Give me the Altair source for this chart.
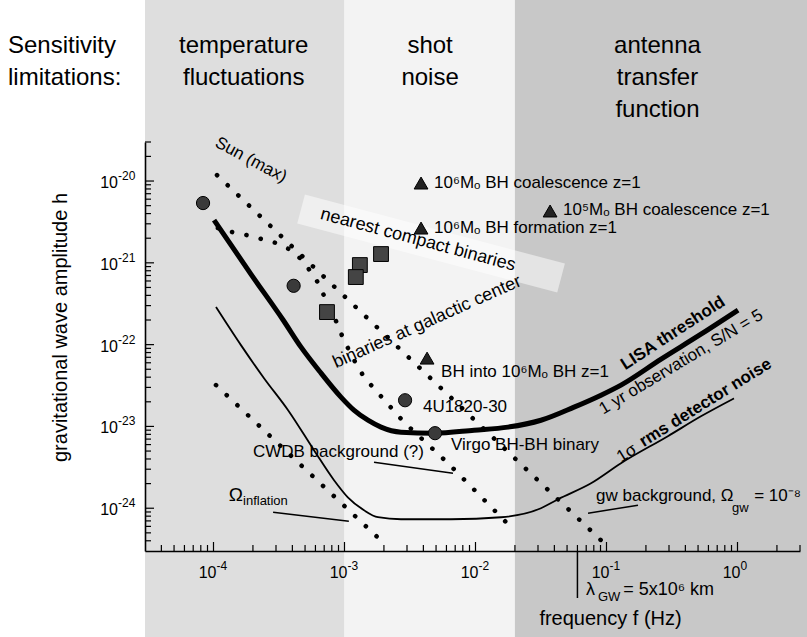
import altair as alt
import pandas as pd

FONT = "Liberation Sans"
W, H = 655, 409

# ---------------- data ----------------
band_lo = [3e-5, 1e-3, 2e-2]
band_hi = [1e-3, 2e-2, 5.0]
head_f = [1.7e-4, 4.5e-3, 0.245]
head_lines = [["temperature", "fluctuations"], ["shot", "noise"], ["antenna", "transfer", "function"]]
side_lines = ["Sensitivity", "limitations:"]

# LISA threshold (1 yr observation, S/N = 5)
lisa_f = [1.01e-4, 1.93e-4, 3.4e-4, 4.66e-4, 6.62e-4, 9.4e-4, 1.18e-3, 1.51e-3, 1.9e-3, 2.7e-3,
          4.82e-3, 9.75e-3, 1.77e-2, 3.16e-2, 5.65e-2, 9.08e-2, 0.129, 0.261, 0.526, 1.01]
lisa_h = [3.33e-21, 7.28e-22, 2.0e-22, 9.31e-23, 4.48e-23, 2.28e-23, 1.58e-23, 1.19e-23, 9.8e-24, 8.5e-24,
          8.27e-24, 9.0e-24, 9.8e-24, 1.19e-23, 1.72e-23, 2.41e-23, 3.2e-23, 6.65e-23, 1.34e-22, 2.64e-22]

# 1 sigma rms detector noise
noise_f = [1.045e-4, 1.62e-4, 2.43e-4, 3.71e-4, 5.85e-4, 8.32e-4, 1.06e-3, 1.41e-3, 1.8e-3, 2.7e-3,
           6.5e-3, 1.57e-2, 3.16e-2, 4.27e-2, 7.62e-2, 0.129, 0.294, 0.526, 0.94]
noise_h = [2.88e-22, 9.86e-23, 3.89e-23, 1.58e-23, 5.13e-24, 2.2e-24, 1.36e-24, 9.45e-25, 7.76e-25, 7.33e-25,
           7.33e-25, 7.76e-25, 1.0e-24, 1.29e-24, 2.02e-24, 3.55e-24, 7.6e-24, 1.33e-23, 2.2e-23]

# dotted source tracks
sun_f = [1.064e-4, 9.25e-2]
sun_h = [1.18e-20, 3.94e-25]
gc_f = [1.08e-4, 1.38e-4, 1.80e-4, 2.34e-4, 3.0e-4, 3.91e-4, 4.74e-4, 5.55e-4, 6.38e-4, 7.10e-4,
        8.77e-4, 9.74e-4, 1.16e-3, 1.41e-3, 2.84e-3, 6.17e-3, 1.90e-2]
gc_h = [2.66e-21, 2.38e-21, 2.18e-21, 1.95e-21, 1.75e-21, 1.43e-21, 1.08e-21, 7.71e-22, 5.50e-22, 3.71e-22,
        1.83e-22, 1.20e-22, 6.84e-23, 4.0e-23, 1.13e-23, 3.55e-24, 5.69e-25]
infl_f = [1.045e-4, 2.0e-3]
infl_h = [3.2e-23, 3.73e-25]

# leader lines (Omega_inflation, CWDB background, gw background)
lead_id = ["infl", "infl", "cwdb", "cwdb", "gwb", "gwb"]
lead_f = [2.85e-4, 1.08e-3, 1.68e-3, 6.73e-3, 7.23e-2, 0.174]
lead_h = [8.93e-25, 6.93e-25, 3.65e-24, 2.68e-24, 8.69e-25, 1.09e-24]

# light strip behind "nearest compact binaries"
strip_f = [4.66e-4, 4.5e-2]
strip_h = [4.54e-21, 6.51e-22]

# sources
circ_f = [8.32e-5, 4.09e-4, 2.90e-3, 4.91e-3]
circ_h = [5.38e-21, 5.24e-22, 2.09e-23, 8.27e-24]
sq_f = [1.90e-3, 1.31e-3, 1.22e-3, 7.35e-4]
sq_h = [1.28e-21, 9.39e-22, 6.70e-22, 2.50e-22]
tri_f = [3.84e-3, 3.71e-2, 3.84e-3, 4.27e-3]
tri_h = [9.45e-21, 4.30e-21, 2.66e-21, 6.84e-23]

# horizontal source labels
src_text = ["10⁶Mₒ BH coalescence z=1", "10⁵Mₒ BH coalescence z=1", "10⁶Mₒ BH formation z=1",
            "BH into 10⁶Mₒ BH z=1", "4U1820-30", "Virgo BH-BH binary", "CWDB background (?)",
            "gw background, Ω", "= 10⁻⁸"]
src_f = [4.82e-3, 4.66e-2, 4.82e-3, 5.46e-3, 3.97e-3, 6.50e-3, 2.00e-4, 8.32e-2, 1.34]
src_h = [9.45e-21, 4.42e-21, 2.66e-21, 4.61e-23, 1.72e-23, 5.90e-24, 4.84e-24, 1.40e-24, 1.40e-24]

# rotated labels
rot_text = ["Sun (max)", "nearest compact binaries", "binaries at galactic center",
            "LISA threshold", "1 yr observation, S/N = 5", "1σ", "rms detector noise"]
rot_f = [1.93e-4, 3.64e-3, 4.27e-3, 0.322, 0.371, 0.143, 0.57]
rot_h = [1.81e-20, 1.90e-21, 1.88e-22, 1.38e-22, 6.11e-23, 4.7e-24, 1.95e-23]

# Omega_inflation, Omega_gw subscripts
omega_f = [1.31e-4]
omega_h = [1.44e-24]
sub_text = ["inflation", "gw"]
sub_f = [1.68e-4, 0.908]
sub_h = [1.22e-24, 1.0e-24]

# lambda_GW marker
lam_f = [0.06]
lam_text = ["λ", "GW", "= 5x10⁶ km"]
lam_tf = [6.98e-2, 8.61e-2, 0.134]

# axis ticks and labels
x_major = [1e-4, 1e-3, 1e-2, 1e-1, 1.0]
x_exp = ["-4", "-3", "-2", "-1", "0"]
x_minor = [m * 10.0 ** e for e in range(-5, 1) for m in range(2, 10) if 3.5e-5 < m * 10.0 ** e < 3.5]
y_major = [1e-24, 1e-23, 1e-22, 1e-21, 1e-20]
y_exp = ["-24", "-23", "-22", "-21", "-20"]
y_minor = [m * 10.0 ** e for e in range(-25, -19) for m in range(2, 10) if 3.5e-25 < m * 10.0 ** e < 3.5e-20]

# ---------------- scales / axes ----------------
xs = alt.Scale(type="log", domain=[3e-5, 3], nice=False)
ys = alt.Scale(type="log", domain=[3e-25, 3e-20], nice=False)
xaxis = alt.Axis(labels=False, ticks=False, grid=False, domainColor="black", domainWidth=1.6, zindex=2,
                 title="frequency f (Hz)", titleFont=FONT, titleFontSize=20, titleFontWeight="normal",
                 titleColor="black", titleX=465, titleY=67, titleAlign="center", titleBaseline="middle")
yaxis = alt.Axis(labels=False, ticks=False, grid=False, domainColor="black", domainWidth=1.6, zindex=2,
                 title="gravitational wave amplitude h", titleFont=FONT, titleFontSize=20,
                 titleFontWeight="normal", titleColor="black", titleX=-85, titleY=185, titleAngle=270,
                 titleAlign="center", titleBaseline="middle")


def X(field="f"):
    return alt.X(f"{field}:Q", scale=xs, axis=xaxis)


def Y(field="h"):
    return alt.Y(f"{field}:Q", scale=ys, axis=yaxis)


def pts(f, h, **extra):
    d = {"f": f, "h": h}
    d.update(extra)
    return pd.DataFrame(d)


layers = []

# bands
band_fill = ["#dedede", "#f3f3f3", "#c8c8c8"]
for i in range(3):
    layers.append(
        alt.Chart(pd.DataFrame({"f": [band_lo[i]], "f2": [band_hi[i]]}))
        .mark_rect(color=band_fill[i])
        .encode(x=X(), x2="f2:Q", y=alt.value(-150), y2=alt.value(H + 100))
    )

# header texts
head_y = [-96, -64, -32]
for i in range(3):
    for j, line in enumerate(head_lines[i]):
        layers.append(
            alt.Chart(pd.DataFrame({"f": [head_f[i]], "t": [line]}))
            .mark_text(font=FONT, fontSize=24, align="center", baseline="middle", color="black")
            .encode(x=X(), y=alt.value(head_y[j]), text="t:N")
        )
for j, line in enumerate(side_lines):
    layers.append(
        alt.Chart(pd.DataFrame({"t": [line]}))
        .mark_text(font=FONT, fontSize=24, align="left", baseline="middle", color="black")
        .encode(x=alt.value(-137), y=alt.value(head_y[j]), text="t:N")
    )

# light strip
layers.append(
    alt.Chart(pts(strip_f, strip_h)).mark_line(color="white", strokeWidth=30, opacity=0.5, strokeCap="butt")
    .encode(x=X(), y=Y())
)

# dotted tracks
for f, h in [(sun_f, sun_h), (gc_f, gc_h), (infl_f, infl_h)]:
    layers.append(
        alt.Chart(pts(f, h)).mark_line(color="black", strokeWidth=4.6, strokeCap="round",
                                       strokeDash=[0.1, 14.6])
        .encode(x=X(), y=Y())
    )

# leader lines
layers.append(
    alt.Chart(pts(lead_f, lead_h, g=lead_id)).mark_line(color="black", strokeWidth=1.5)
    .encode(x=X(), y=Y(), detail="g:N")
)

# noise curve and LISA threshold
layers.append(
    alt.Chart(pts(noise_f, noise_h)).mark_line(color="black", strokeWidth=1.8, interpolate="monotone")
    .encode(x=X(), y=Y())
)
layers.append(
    alt.Chart(pts(lisa_f, lisa_h)).mark_line(color="black", strokeWidth=5, interpolate="monotone")
    .encode(x=X(), y=Y())
)

# markers
layers.append(
    alt.Chart(pts(circ_f, circ_h)).mark_point(shape="circle", filled=True, fill="#3a3a3a", stroke="black",
                                              strokeWidth=1, size=175, opacity=1)
    .encode(x=X(), y=Y())
)
layers.append(
    alt.Chart(pts(sq_f, sq_h)).mark_point(shape="square", filled=True, fill="#444444", stroke="black",
                                          strokeWidth=1, size=220, opacity=1)
    .encode(x=X(), y=Y())
)
layers.append(
    alt.Chart(pts(tri_f, tri_h)).mark_point(shape="triangle-up", filled=True, fill="#222222", stroke="black",
                                            strokeWidth=1, size=190, opacity=1)
    .encode(x=X(), y=Y())
)

# horizontal labels
for i, t in enumerate(src_text):
    layers.append(
        alt.Chart(pd.DataFrame({"f": [src_f[i]], "h": [src_h[i]], "t": [t]}))
        .mark_text(font=FONT, fontSize=17, align="left", baseline="middle", color="black")
        .encode(x=X(), y=Y(), text="t:N")
    )

# rotated labels
rot_style = [
    dict(angle=28, fontSize=17),
    dict(angle=15, fontSize=18),
    dict(angle=336, fontSize=18),
    dict(angle=327, fontSize=17, fontWeight="bold"),
    dict(angle=329, fontSize=17),
    dict(angle=328, fontSize=17),
    dict(angle=328, fontSize=17, fontWeight="bold"),
]
for i, t in enumerate(rot_text):
    layers.append(
        alt.Chart(pd.DataFrame({"f": [rot_f[i]], "h": [rot_h[i]], "t": [t]}))
        .mark_text(font=FONT, align="center", baseline="middle", color="black", **rot_style[i])
        .encode(x=X(), y=Y(), text="t:N")
    )

# Omega_inflation and subscripts
layers.append(
    alt.Chart(pd.DataFrame({"f": omega_f, "h": omega_h, "t": ["Ω"]}))
    .mark_text(font=FONT, fontSize=19, align="left", baseline="middle", color="black")
    .encode(x=X(), y=Y(), text="t:N")
)
layers.append(
    alt.Chart(pd.DataFrame({"f": sub_f, "h": sub_h, "t": sub_text}))
    .mark_text(font=FONT, fontSize=13, align="left", baseline="middle", color="black")
    .encode(x=X(), y=Y(), text="t:N")
)

# lambda_GW marker
layers.append(
    alt.Chart(pd.DataFrame({"f": lam_f})).mark_rule(color="black", strokeWidth=1.5)
    .encode(x=X(), y=alt.value(H), y2=alt.value(H + 47))
)
lam_y = [39, 46, 39]
lam_size = [18, 13, 18]
for i, t in enumerate(lam_text):
    layers.append(
        alt.Chart(pd.DataFrame({"f": [lam_tf[i]], "t": [t]}))
        .mark_text(font=FONT, fontSize=lam_size[i], align="left", baseline="middle", color="black")
        .encode(x=X(), y=alt.value(H + lam_y[i]), text="t:N")
    )

# ticks (pointing inward)
layers.append(alt.Chart(pd.DataFrame({"f": x_major})).mark_rule(color="black", strokeWidth=1.2)
              .encode(x=X(), y=alt.value(H), y2=alt.value(H - 9)))
layers.append(alt.Chart(pd.DataFrame({"f": x_minor})).mark_rule(color="black", strokeWidth=1.2)
              .encode(x=X(), y=alt.value(H), y2=alt.value(H - 6)))
layers.append(alt.Chart(pd.DataFrame({"h": y_major})).mark_rule(color="black", strokeWidth=1.2)
              .encode(y=Y(), x=alt.value(0), x2=alt.value(9)))
layers.append(alt.Chart(pd.DataFrame({"h": y_minor})).mark_rule(color="black", strokeWidth=1.2)
              .encode(y=Y(), x=alt.value(0), x2=alt.value(6)))

# tick labels as 10 + superscript
xl = pd.DataFrame({"f": x_major, "e": x_exp})
layers.append(alt.Chart(xl).mark_text(font=FONT, fontSize=16, align="right", baseline="middle", dx=3,
                                      color="black")
              .encode(x=X(), y=alt.value(H + 22), text=alt.value("10")))
layers.append(alt.Chart(xl).mark_text(font=FONT, fontSize=12, align="left", baseline="middle", dx=3,
                                      color="black")
              .encode(x=X(), y=alt.value(H + 15), text="e:N"))
yl = pd.DataFrame({"h": y_major, "e": y_exp})
layers.append(alt.Chart(yl).mark_text(font=FONT, fontSize=16, align="right", baseline="middle", dy=2,
                                      color="black")
              .encode(y=Y(), x=alt.value(-27), text=alt.value("10")))
layers.append(alt.Chart(yl).mark_text(font=FONT, fontSize=12, align="left", baseline="middle", dy=-5,
                                      color="black")
              .encode(y=Y(), x=alt.value(-27), text="e:N"))

chart = (
    alt.layer(*layers)
    .properties(width=W, height=H, padding={"left": 145, "top": 142, "right": 7, "bottom": 86},
                autosize=alt.AutoSizeParams(type="none"), background="white")
    .configure_view(stroke=None)
)

chart.save("out.html", embed_options={"renderer": "svg", "actions": False})
